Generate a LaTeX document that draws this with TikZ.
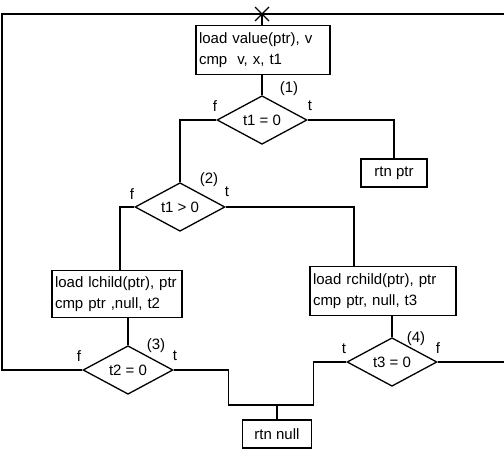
\documentclass[tikz,border=0pt]{standalone}
\usepackage{fontspec}
\setmainfont{Liberation Sans}
\usetikzlibrary{shapes.geometric}

\begin{document}
\begin{tikzpicture}
[
	x=1pt,y=-1pt,
	every node/.style={font=\fontsize{15}{21}\selectfont},
	box/.style={rectangle,draw,line width=1.3pt,inner sep=3pt},
	test/.style={diamond,draw,line width=1.3pt,inner sep=0pt,minimum width=90pt,minimum height=45pt},
	lbl/.style={inner sep=0pt},
	flow/.style={line width=1.3pt}
]

	\useasboundingbox (0,0) rectangle (504,452);

	% blocks
	\node[box,text width=128pt,minimum height=49pt,align=left] at (263,50) (value) {load value(ptr), v\\cmp\ \ v, x, t1};
	\node[box,minimum width=66pt,minimum height=28pt] at (394,173) (rtnptr) {rtn ptr};
	\node[box,text width=124pt,minimum height=47pt,align=left] at (117,294) (lchild) {load lchild(ptr), ptr\\cmp ptr ,null, t2};
	\node[box,text width=140pt,minimum height=49pt,align=left] at (383,291) (rchild) {load rchild(ptr), ptr\\cmp ptr, null, t3};
	\node[box,minimum width=69pt,minimum height=28pt] at (277,434) (rtnnull) {rtn null};

	% tests
	\node[test] at (262,120) (t1) {t1 = 0};
	\node[test] at (180,207) (t2) {t1 > 0};
	\node[test] at (128,370) (t3) {t2 = 0};
	\node[test] at (392,362) (t4) {t3 = 0};

	% test labels
	\node[lbl] at (289,89) (n1) {(1)};
	\node[lbl] at (209,180) (n2) {(2)};
	\node[lbl] at (156,346) (n3) {(3)};
	\node[lbl] at (416,339) (n4) {(4)};
	\node[lbl] at (215,106) (f1) {f};
	\node[lbl] at (310,106) (s1) {t};
	\node[lbl] at (132,194) (f2) {f};
	\node[lbl] at (227,192) (s2) {t};
	\node[lbl] at (79,356) (f3) {f};
	\node[lbl] at (175,356) (s3) {t};
	\node[lbl] at (438,348) (f4) {f};
	\node[lbl] at (344,349) (s4) {t};

	% loop back
	\coordinate (star) at (262,14);
	\coordinate (nw) at (2,14);
	\coordinate (ne) at (504,14);
	\coordinate (se) at (504,362);
	\coordinate (join) at (277,405);
	\draw[flow] (t3.west) -| (nw) -- (ne);
	\draw[flow] (t4.east) -- (se);
	\draw[flow] ([shift={(-7,-7)}]star) -- ([shift={(7,7)}]star);
	\draw[flow] ([shift={(-7,7)}]star) -- ([shift={(7,-7)}]star);
	\draw[flow] (star) -- (star |- value.north);

	% edges
	\draw[flow] (value.south -| t1.north) -- (t1.north);
	\draw[flow] (t1.east) -| (rtnptr.north);
	\draw[flow] (t1.west) -| (t2.north);
	\draw[flow] (t2.east) -| ([xshift=-29pt]rchild.north);
	\draw[flow] (t2.west) -| ([xshift=3pt]lchild.north);
	\draw[flow] (lchild.south -| t3.north) -- (t3.north);
	\draw[flow] (rchild.south -| t4.north) -- (t4.north);
	\draw[flow] (t3.east) -- ++(55,0) |- (join);
	\draw[flow] (t4.west) -- ++(-33,0) |- (join);
	\draw[flow] (join) -- (rtnnull.north);

\end{tikzpicture}
\end{document}
